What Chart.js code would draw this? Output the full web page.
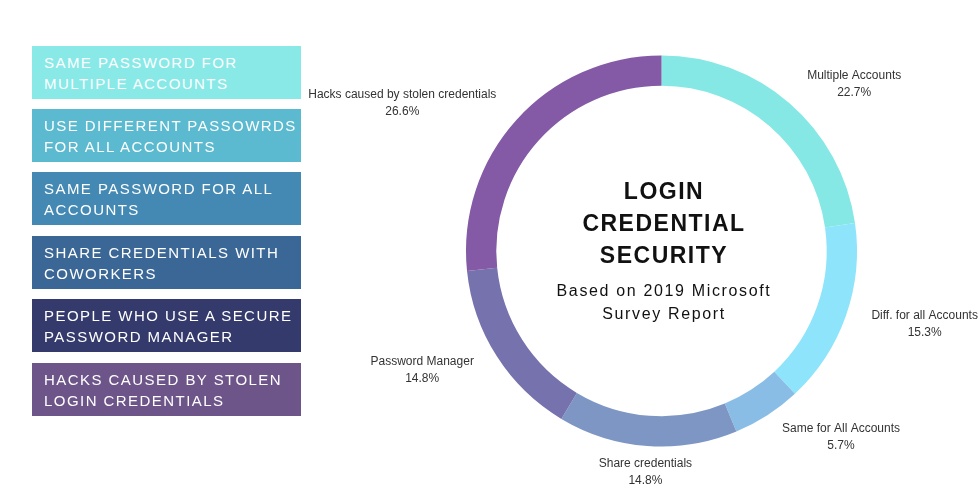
<!DOCTYPE html>
<html>
<head>
<meta charset="utf-8">
<script src="https://cdn.jsdelivr.net/npm/chart.js@4/dist/chart.umd.min.js"></script>
<style>
  html, body { margin: 0; padding: 0; background: #ffffff; }
  #wrap { position: relative; width: 980px; height: 496px; overflow: hidden; }
  #c { position: absolute; left: 0; top: 0; }
  .box {
    position: absolute; left: 32px; width: 257px; height: 47px;
    padding: 6px 0 0 12px;
    font-family: "Liberation Sans", Arial, sans-serif; font-size: 15px;
    line-height: 21px; letter-spacing: 1.45px; color: #ffffff;
    text-transform: uppercase; white-space: nowrap;
  }
  #title {
    position: absolute; left: 464px; width: 400px; top: 175px; text-align: center;
    font-family: "Liberation Sans", Arial, sans-serif; font-weight: bold;
    font-size: 23px; line-height: 32px; letter-spacing: 1.5px; color: #111;
  }
  #sub {
    position: absolute; left: 464px; width: 400px; top: 278.5px; text-align: center;
    font-family: "Liberation Sans", Arial, sans-serif;
    font-size: 16px; line-height: 23px; letter-spacing: 1.65px; color: #111;
  }
</style>
</head>
<body>
<div id="wrap">
  <canvas id="c" width="980" height="496"></canvas>
  <div id="legend"></div>
  <div id="title">LOGIN<br>CREDENTIAL<br>SECURITY</div>
  <div id="sub">Based on 2019 Microsoft<br>Survey Report</div>
</div>
<script>
// ---- data ----
const sliceLabels = ["Multiple Accounts", "Diff. for all Accounts", "Same for All Accounts", "Share credentials", "Password Manager", "Hacks caused by stolen credentials"];
const sliceValues = [22.7, 15.3, 5.7, 14.8, 14.8, 26.6];
const sliceColors = ["#85E8E5", "#8EE4FB", "#8ABDE6", "#7E96C4", "#7672AE", "#8459A5"];

const legendLines = [["Same password for", "multiple accounts"], ["Use different passowrds", "for all accounts"], ["Same password for all", "accounts"], ["Share credentials with", "coworkers"], ["People who use a secure", "password manager"], ["Hacks caused by stolen", "login credentials"]];
const legendColors = ["#88E9E7", "#5BBACF", "#4389B4", "#3A6795", "#343A6C", "#6E5589"];

// ---- legend boxes (HTML) ----
const legendEl = document.getElementById('legend');
legendLines.forEach((lines, i) => {
  const d = document.createElement('div');
  d.className = 'box';
  d.style.top = (45.5 + i * 63.4) + 'px';
  d.style.background = legendColors[i];
  d.innerHTML = lines.join('<br>');
  legendEl.appendChild(d);
});

// ---- outside labels plugin ----
const outLabels = {
  id: 'outLabels',
  afterDatasetsDraw(chart) {
    const ctx = chart.ctx;
    const meta = chart.getDatasetMeta(0);
    const data = chart.data.datasets[0].data;
    ctx.save();
    ctx.font = '12px "Liberation Sans", Arial, sans-serif';
    ctx.fillStyle = '#333333';
    ctx.textBaseline = 'middle';
    meta.data.forEach((arc, i) => {
      const p = arc.getProps(['x', 'y', 'startAngle', 'endAngle', 'outerRadius'], true);
      const mid = (p.startAngle + p.endAngle) / 2;
      const r = p.outerRadius + 27;
      const ax = p.x + Math.cos(mid) * r;
      const ay = p.y + Math.sin(mid) * r + (Math.sin(mid) < 0 ? 1.5 : -0.5);
      const c = Math.cos(mid);
      const l1 = chart.data.labels[i];
      const l2 = data[i].toFixed(1) + '%';
      const w = Math.max(ctx.measureText(l1).width, ctx.measureText(l2).width);
      let cx;
      if (c > 0.3) cx = ax + w / 2;
      else if (c < -0.3) cx = ax - w / 2;
      else cx = ax;
      ctx.textAlign = 'center';
      ctx.fillText(l1, cx, ay - 8.5);
      ctx.fillText(l2, cx, ay + 8.5);
    });
    ctx.restore();
  }
};

new Chart(document.getElementById('c'), {
  type: 'doughnut',
  data: {
    labels: sliceLabels,
    datasets: [{
      data: sliceValues,
      backgroundColor: sliceColors,
      borderWidth: 0,
      hoverOffset: 0
    }]
  },
  options: {
    responsive: false,
    animation: false,
    cutout: '84.5%',
    layout: { padding: { left: 466, right: 123, top: 55.5, bottom: 49.5 } },
    plugins: {
      legend: { display: false },
      tooltip: { enabled: false }
    }
  },
  plugins: [outLabels]
});
</script>
</body>
</html>
